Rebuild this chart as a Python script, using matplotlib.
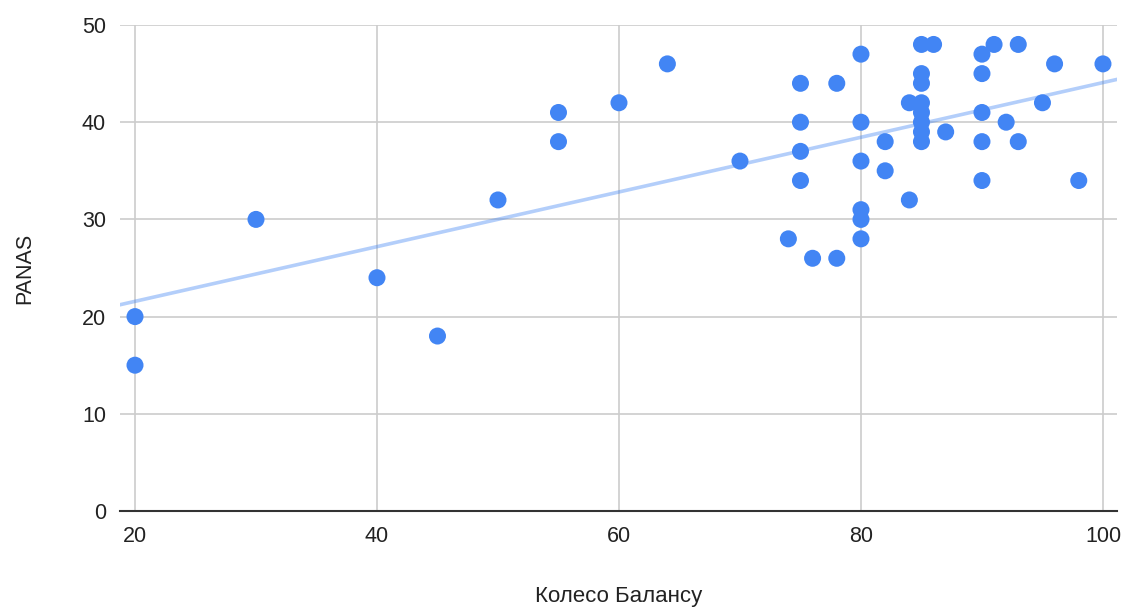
import numpy as np
import matplotlib.pyplot as plt

balance = [20, 20, 30, 40, 45, 50, 55, 55, 60, 64, 70, 74, 75, 75, 75, 75, 76, 78, 78,
           80, 80, 80, 80, 80, 80, 82, 82, 84, 84, 85, 86, 85, 85, 85, 85, 85, 85, 85,
           87, 90, 90, 90, 90, 90, 91, 92, 93, 93, 95, 96, 98, 100]
panas = [20, 15, 30, 24, 18, 32, 41, 38, 42, 46, 36, 28, 44, 40, 37, 34, 26, 26, 44,
         47, 40, 36, 31, 30, 28, 38, 35, 42, 32, 48, 48, 45, 44, 42, 41, 40, 39, 38,
         39, 47, 45, 41, 38, 34, 48, 40, 48, 38, 42, 46, 34, 46]

plt.rcParams['font.family'] = ['Liberation Sans', 'DejaVu Sans']

fig = plt.figure(figsize=(11.27, 6.08), dpi=100)
ax = fig.add_axes([120 / 1127, 1 - 511 / 608, (1117 - 120) / 1127, (511 - 25) / 608])

x = np.array(balance, dtype=float)
y = np.array(panas, dtype=float)
k, b = np.polyfit(x, y, 1)
xl = np.array([18.76, 101.16])
ax.plot(xl, k * xl + b, color='#4285F4', alpha=0.4, lw=2.6, zorder=2)

ax.scatter(x, y, s=150, color='#4285F4', edgecolors='none', zorder=3)

ax.set_xlim(18.76, 101.16)
ax.set_ylim(0, 50)
ax.set_xticks([20, 40, 60, 80, 100])
ax.set_yticks([0, 10, 20, 30, 40, 50])
ax.grid(True, color='#cccccc', lw=1.2, zorder=0)
ax.set_axisbelow(True)
for s in ['left', 'right', 'top']:
    ax.spines[s].set_visible(False)
ax.spines['bottom'].set_color('#333333')
ax.spines['bottom'].set_linewidth(1.5)
ax.spines['bottom'].set_zorder(1)
ax.tick_params(axis='both', length=0, labelsize=15.5, colors='#222222')
ax.tick_params(axis='x', pad=11)
ax.tick_params(axis='y', pad=10)

ax.set_xlabel('Колесо Балансу', fontsize=16, color='#222222', labelpad=28)
ax.set_ylabel('PANAS', fontsize=15.5, color='#222222', labelpad=34)

fig.savefig('out.png', dpi=100)
